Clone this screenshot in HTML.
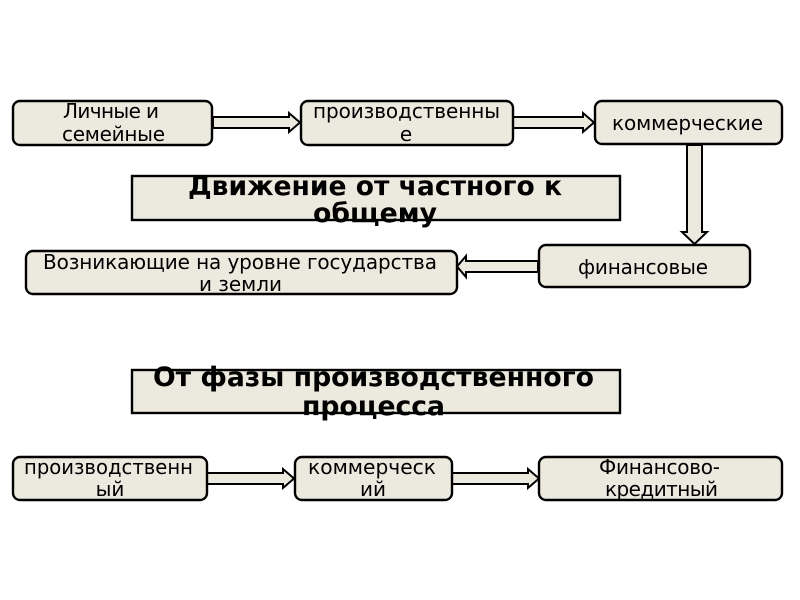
<!DOCTYPE html>
<html>
<head>
<meta charset="utf-8">
<style>
  html, body { margin: 0; padding: 0; background: #ffffff; }
  svg { display: block; }
  .n { font-family: "DejaVu Sans", "Liberation Sans", sans-serif; font-size: 20px; fill: #000; }
  .t { font-family: "DejaVu Sans", "Liberation Sans", sans-serif; font-size: 27px; font-weight: bold; fill: #000; }
  .tc { font-family: "DejaVu Sans Condensed", "DejaVu Sans", "Liberation Sans", sans-serif; font-size: 27px; font-weight: bold; fill: #000; }
</style>
</head>
<body>
<svg width="800" height="600" viewBox="0 0 800 600" xmlns="http://www.w3.org/2000/svg">
  <rect x="0" y="0" width="800" height="600" fill="#ffffff"/>

  <!-- Arrows row 1 -->
  <polygon points="213,117 289,117 289,113 300,122.5 289,132 289,128 213,128" fill="#ECE9DF" stroke="#000" stroke-width="2"/>
  <polygon points="513,117 583,117 583,113 594,122.5 583,132 583,128 513,128" fill="#ECE9DF" stroke="#000" stroke-width="2"/>
  <!-- vertical arrow -->
  <polygon points="687,145 702,145 702,232 707,232 694.5,244 682,232 687,232" fill="#ECE9DF" stroke="#000" stroke-width="2"/>
  <!-- left arrow -->
  <polygon points="538,261 466,261 466,256 457,266.5 466,277 466,272 538,272" fill="#ECE9DF" stroke="#000" stroke-width="2"/>
  <!-- bottom arrows -->
  <polygon points="207,473 283,473 283,469 294,478.5 283,488 283,484 207,484" fill="#ECE9DF" stroke="#000" stroke-width="2"/>
  <polygon points="452,473 528,473 528,469 539,478.5 528,488 528,484 452,484" fill="#ECE9DF" stroke="#000" stroke-width="2"/>

  <!-- Row 1 boxes -->
  <rect x="13" y="101" width="199" height="44" rx="7" fill="#ECE9DF" stroke="#000" stroke-width="2.4"/>
  <text class="n" x="63" y="118" textLength="96" lengthAdjust="spacing">Личные и</text>
  <text class="n" x="62" y="141" textLength="103" lengthAdjust="spacing">семейные</text>

  <rect x="301" y="101" width="212" height="44" rx="7" fill="#ECE9DF" stroke="#000" stroke-width="2.4"/>
  <text class="n" x="313" y="118" textLength="187" lengthAdjust="spacing">производственны</text>
  <text class="n" x="406" y="141" text-anchor="middle">е</text>

  <rect x="595" y="101" width="187" height="43" rx="7" fill="#ECE9DF" stroke="#000" stroke-width="2.4"/>
  <text class="n" x="612" y="130" textLength="151" lengthAdjust="spacing">коммерческие</text>

  <!-- Title 1 -->
  <rect x="132" y="176" width="488" height="44" fill="#ECE9DF" stroke="#000" stroke-width="2.4"/>
  <text class="t" x="188" y="195" textLength="374" lengthAdjust="spacingAndGlyphs">Движение от частного к</text>
  <text class="t" x="313" y="222" textLength="124" lengthAdjust="spacingAndGlyphs">общему</text>

  <!-- financial -->
  <rect x="539" y="245" width="211" height="42" rx="7" fill="#ECE9DF" stroke="#000" stroke-width="2.4"/>
  <text class="n" x="578" y="274" textLength="130" lengthAdjust="spacing">финансовые</text>

  <rect x="26" y="251" width="431" height="43" rx="7" fill="#ECE9DF" stroke="#000" stroke-width="2.4"/>
  <text class="n" x="43" y="269" textLength="394" lengthAdjust="spacing">Возникающие на уровне государства</text>
  <text class="n" x="199" y="291" textLength="83" lengthAdjust="spacing">и земли</text>

  <!-- Title 2 -->
  <rect x="132" y="370" width="488" height="43" fill="#ECE9DF" stroke="#000" stroke-width="2.4"/>
  <text class="tc" x="153" y="386" textLength="441" lengthAdjust="spacingAndGlyphs">От фазы производственного</text>
  <text class="tc" x="302" y="415" textLength="143" lengthAdjust="spacingAndGlyphs">процесса</text>

  <!-- Bottom row -->
  <rect x="13" y="457" width="194" height="43" rx="7" fill="#ECE9DF" stroke="#000" stroke-width="2.4"/>
  <text class="n" x="24" y="474" textLength="169" lengthAdjust="spacingAndGlyphs">производственн</text>
  <text class="n" x="110" y="496" text-anchor="middle">ый</text>

  <rect x="295" y="457" width="157" height="43" rx="7" fill="#ECE9DF" stroke="#000" stroke-width="2.4"/>
  <text class="n" x="308" y="474" textLength="128" lengthAdjust="spacingAndGlyphs">коммерческ</text>
  <text class="n" x="373" y="496" text-anchor="middle">ий</text>

  <rect x="539" y="457" width="243" height="43" rx="7" fill="#ECE9DF" stroke="#000" stroke-width="2.4"/>
  <text class="n" x="599" y="474" textLength="121" lengthAdjust="spacing">Финансово-</text>
  <text class="n" x="605" y="496" textLength="113" lengthAdjust="spacing">кредитный</text>
</svg>
</body>
</html>
